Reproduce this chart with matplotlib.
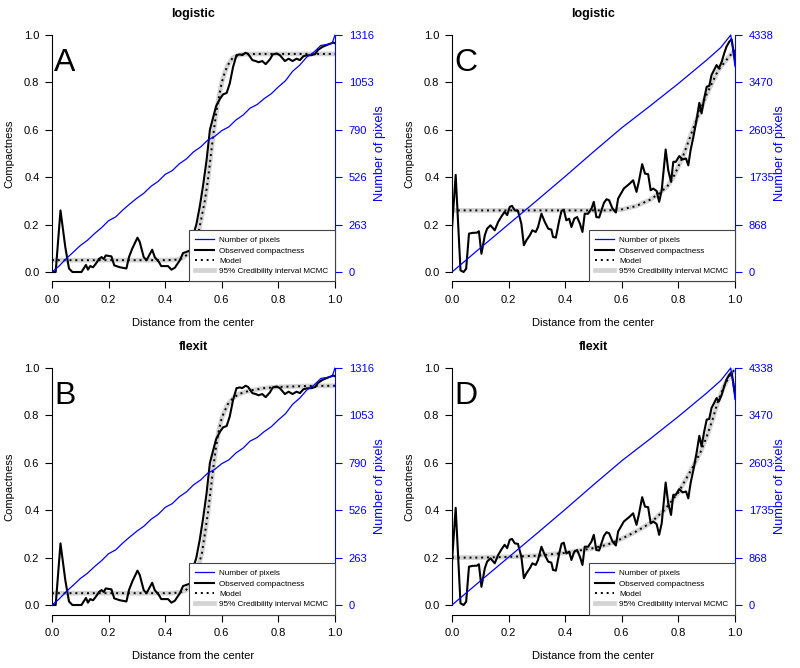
import numpy as np
import matplotlib
matplotlib.use('Agg')
import matplotlib.pyplot as plt
from matplotlib.lines import Line2D

plt.rcParams['font.family'] = ['Liberation Sans', 'DejaVu Sans']

# ── observed compactness, panels A/B (same data) ─────────────────────────────
ab_obs_x = [0.0, 0.013, 0.03, 0.047, 0.06, 0.072, 0.104, 0.12, 0.127, 0.135,
            0.145, 0.155, 0.166, 0.175, 0.183, 0.19, 0.21, 0.22, 0.24, 0.263,
            0.272, 0.284, 0.302, 0.31, 0.324, 0.334, 0.354, 0.363, 0.378, 0.386,
            0.4, 0.41, 0.422, 0.434, 0.452, 0.463, 0.475, 0.487, 0.5, 0.51,
            0.522, 0.534, 0.546, 0.558, 0.57, 0.58, 0.593, 0.605, 0.617, 0.628,
            0.64, 0.652, 0.664, 0.672, 0.684, 0.693, 0.708, 0.72, 0.73, 0.743,
            0.755, 0.77, 0.78, 0.794, 0.805, 0.823, 0.836, 0.85, 0.864, 0.876,
            0.888, 0.9, 0.917, 0.93, 0.94, 0.956, 0.976, 0.994, 1.0]
ab_obs_y = [0.0, 0.0, 0.26, 0.105, 0.015, 0.0, 0.0, 0.03, 0.01, 0.025,
            0.02, 0.035, 0.055, 0.063, 0.055, 0.07, 0.066, 0.028, 0.02, 0.015,
            0.063, 0.1, 0.145, 0.127, 0.063, 0.05, 0.094, 0.063, 0.042, 0.025,
            0.025, 0.025, 0.01, 0.018, 0.05, 0.08, 0.085, 0.09, 0.16, 0.2,
            0.275, 0.366, 0.47, 0.6, 0.655, 0.7, 0.73, 0.75, 0.755, 0.795,
            0.866, 0.915, 0.918, 0.915, 0.925, 0.92, 0.894, 0.89, 0.885, 0.89,
            0.877, 0.897, 0.918, 0.922, 0.915, 0.89, 0.9, 0.89, 0.9, 0.894,
            0.91, 0.914, 0.915, 0.92, 0.937, 0.95, 0.96, 0.968, 0.965]

# number of pixels, panels A/B
ab_pix_x = [0.0, 0.025, 0.05, 0.075, 0.1, 0.125, 0.15, 0.175, 0.2, 0.225,
            0.25, 0.275, 0.3, 0.325, 0.35, 0.375, 0.4, 0.425, 0.45, 0.475,
            0.5, 0.525, 0.55, 0.575, 0.6, 0.625, 0.65, 0.675, 0.7, 0.725,
            0.75, 0.775, 0.8, 0.825, 0.85, 0.875, 0.9, 0.925, 0.95, 0.975,
            0.99, 1.0]
ab_pix_n = [0, 33, 74, 110, 147, 176, 213, 246, 285, 306,
            344, 378, 410, 438, 476, 503, 542, 563, 601, 628,
            667, 694, 732, 753, 785, 806, 844, 871, 910, 930,
            963, 990, 1028, 1062, 1114, 1148, 1193, 1220, 1258, 1264,
            1270, 1316]
ab_pix_ticks = [0, 263, 526, 790, 1053, 1316]

# models A (logistic) and B (flexit)
a_mod_x = [0.0, 0.40, 0.44, 0.46, 0.48, 0.50, 0.52, 0.54, 0.55, 0.56, 0.57,
           0.58, 0.59, 0.60, 0.61, 0.62, 0.63, 0.64, 0.66, 0.68, 0.72, 1.0]
a_mod_y = [0.05, 0.05, 0.052, 0.058, 0.075, 0.11, 0.18, 0.30, 0.38, 0.48, 0.58,
           0.67, 0.74, 0.80, 0.84, 0.87, 0.89, 0.905, 0.915, 0.919, 0.92, 0.92]
b_mod_x = [0.0, 0.42, 0.45, 0.47, 0.49, 0.51, 0.53, 0.55, 0.56, 0.57, 0.58,
           0.59, 0.60, 0.62, 0.64, 0.66, 0.70, 0.75, 0.80, 0.90, 1.0]
b_mod_y = [0.05, 0.05, 0.053, 0.06, 0.08, 0.13, 0.22, 0.38, 0.48, 0.58, 0.67,
           0.74, 0.79, 0.845, 0.873, 0.89, 0.905, 0.915, 0.92, 0.924, 0.925]

# ── observed compactness, panels C/D (same data) ─────────────────────────────
cd_obs_x = [0.0, 0.013, 0.03, 0.041, 0.05, 0.06, 0.072, 0.088, 0.095, 0.104,
            0.116, 0.124, 0.136, 0.151, 0.163, 0.175, 0.186, 0.195, 0.204, 0.212,
            0.222, 0.233, 0.245, 0.254, 0.263, 0.275, 0.284, 0.296, 0.304, 0.316,
            0.328, 0.34, 0.351, 0.357, 0.367, 0.379, 0.387, 0.395, 0.404, 0.414,
            0.422, 0.432, 0.442, 0.452, 0.461, 0.469, 0.481, 0.493, 0.501, 0.51,
            0.52, 0.528, 0.537, 0.546, 0.555, 0.567, 0.579, 0.587, 0.597, 0.607,
            0.617, 0.628, 0.64, 0.652, 0.66, 0.672, 0.682, 0.693, 0.702, 0.711,
            0.723, 0.732, 0.741, 0.755, 0.764, 0.774, 0.782, 0.791, 0.803, 0.815,
            0.827, 0.835, 0.843, 0.853, 0.864, 0.874, 0.882, 0.89, 0.9, 0.909,
            0.917, 0.926, 0.935, 0.943, 0.953, 0.962, 0.97, 0.98, 0.988, 1.0]
cd_obs_y = [0.183, 0.41, 0.007, 0.0, 0.014, 0.162, 0.165, 0.166, 0.172, 0.077,
            0.155, 0.183, 0.197, 0.176, 0.211, 0.235, 0.254, 0.24, 0.275, 0.279,
            0.26, 0.258, 0.204, 0.113, 0.134, 0.155, 0.176, 0.169, 0.19, 0.246,
            0.211, 0.183, 0.179, 0.148, 0.145, 0.218, 0.258, 0.263, 0.218, 0.225,
            0.19, 0.225, 0.232, 0.204, 0.169, 0.246, 0.246, 0.268, 0.296, 0.232,
            0.23, 0.26, 0.292, 0.307, 0.303, 0.268, 0.251, 0.31, 0.331, 0.352,
            0.362, 0.373, 0.387, 0.338, 0.38, 0.455, 0.415, 0.413, 0.345, 0.352,
            0.342, 0.296, 0.345, 0.517, 0.43, 0.38, 0.465, 0.465, 0.489, 0.475,
            0.479, 0.45, 0.514, 0.57, 0.641, 0.714, 0.669, 0.725, 0.782, 0.785,
            0.831, 0.852, 0.873, 0.859, 0.887, 0.923, 0.951, 0.972, 0.982, 0.894]

# number of pixels, panels C/D
cd_pix_x = [0.0, 0.1, 0.2, 0.3, 0.4, 0.5, 0.6, 0.7, 0.8, 0.9, 0.95, 0.985, 1.0]
cd_pix_n = [0, 440, 875, 1310, 1750, 2200, 2640, 3040, 3450, 3880, 4110, 4338, 3760]
cd_pix_ticks = [0, 868, 1735, 2603, 3470, 4338]

# models C (logistic) and D (flexit)
c_mod_x = [0.0, 0.55, 0.60, 0.65, 0.70, 0.73, 0.76, 0.78, 0.80, 0.82, 0.84,
           0.86, 0.88, 0.90, 0.92, 0.94, 0.96, 0.98, 1.0]
c_mod_y = [0.26, 0.26, 0.264, 0.278, 0.305, 0.33, 0.36, 0.395, 0.445, 0.50, 0.565,
           0.63, 0.69, 0.75, 0.80, 0.85, 0.88, 0.91, 0.935]
d_mod_x = [0.0, 0.1, 0.2, 0.3, 0.4, 0.5, 0.55, 0.6, 0.65, 0.7, 0.75, 0.8,
           0.85, 0.88, 0.9, 0.92, 0.94, 0.96, 0.98, 1.0]
d_mod_y = [0.2, 0.2, 0.203, 0.208, 0.22, 0.24, 0.255, 0.28, 0.31, 0.345, 0.4, 0.475,
           0.58, 0.65, 0.71, 0.78, 0.86, 0.92, 0.965, 0.995]

LEGEND_LABELS = ['Number of pixels', 'Observed compactness', 'Model',
                 '95% Credibility interval MCMC']

BAND_COLOR = '#d3d3d3'
DOTS = (0, (1, 2))

W, H = 800, 668
fig = plt.figure(figsize=(W / 100, H / 100), dpi=100)


def draw_panel(x0_px, top_px, obs_x, obs_y, mod_x, mod_y,
               pix_x, pix_n, pix_ticks, title, letter):
    ax = fig.add_axes([x0_px / W, 1 - (top_px + 256) / H, 283 / W, 256 / H])

    ax.plot(mod_x, mod_y, color=BAND_COLOR, lw=3.4, solid_capstyle='butt', zorder=2)
    ax.plot(mod_x, mod_y, color='black', lw=1.4, ls=DOTS, zorder=3)
    ax.plot(obs_x, obs_y, color='black', lw=1.5, zorder=4)

    ax.set_xlim(0, 1)
    ax.set_ylim(-0.04, 1.04)
    ax.set_xticks(np.arange(0, 1.01, 0.2))
    ax.set_yticks(np.arange(0, 1.01, 0.2))
    ax.set_xticklabels([f'{v:.1f}' for v in np.arange(0, 1.01, 0.2)])
    ax.set_yticklabels([f'{v:.1f}' for v in np.arange(0, 1.01, 0.2)])
    ax.tick_params(direction='out', length=5, width=0.8, labelsize=8)
    ax.tick_params(axis='x', pad=5)
    ax.tick_params(axis='y', pad=4)
    for s in ('top', 'right'):
        ax.spines[s].set_visible(False)
    ax.spines['left'].set_bounds(0, 1)
    ax.spines['left'].set_linewidth(0.8)
    ax.spines['bottom'].set_linewidth(0.8)

    ax.text(0.5, 1.045, title, transform=ax.transAxes, ha='center', va='center',
            fontsize=9, fontweight='bold')
    ax.text(0.5, -0.162, 'Distance from the center', transform=ax.transAxes,
            ha='center', va='center', fontsize=8)
    ax.text(-0.152, 0.5, 'Compactness', transform=ax.transAxes, rotation=90,
            ha='center', va='center', fontsize=8)
    ax.text(0.008, 0.847, letter, ha='left', va='baseline', fontsize=23)

    ax2 = ax.twinx()
    ax2.plot(pix_x, pix_n, color='blue', lw=0.9, zorder=5)
    n_max = pix_ticks[-1]
    ax2.set_ylim(-0.04 * n_max, 1.04 * n_max)
    ax2.set_yticks(pix_ticks)
    ax2.set_yticklabels([str(t) for t in pix_ticks])
    ax2.tick_params(direction='out', length=5, width=0.8, labelsize=8,
                    colors='blue', pad=5)
    for s in ('top', 'left', 'bottom'):
        ax2.spines[s].set_visible(False)
    ax2.spines['right'].set_bounds(0, n_max)
    ax2.spines['right'].set_color('blue')
    ax2.spines['right'].set_linewidth(0.8)
    ax2.text(1.159, 0.5, 'Number of pixels', transform=ax2.transAxes, rotation=90,
             ha='center', va='center', fontsize=9.2, color='blue')

    handles = [
        Line2D([0], [0], color='blue', lw=0.9),
        Line2D([0], [0], color='black', lw=1.5),
        Line2D([0], [0], color='black', lw=1.4, ls=DOTS),
        Line2D([0], [0], color=BAND_COLOR, lw=3.4),
    ]
    leg = ax2.legend(handles, LEGEND_LABELS, loc='lower right',
                     bbox_to_anchor=(1, 0), borderaxespad=0, fontsize=5.9,
                     fancybox=False, framealpha=1, edgecolor='#444444',
                     handlelength=2.3, handletextpad=0.65, labelspacing=0.3,
                     borderpad=0.8)
    leg.get_frame().set_linewidth(0.8)
    leg.set_zorder(10)


draw_panel(52, 25.5, ab_obs_x, ab_obs_y, a_mod_x, a_mod_y,
           ab_pix_x, ab_pix_n, ab_pix_ticks, 'logistic', 'A')
draw_panel(452, 25.5, cd_obs_x, cd_obs_y, c_mod_x, c_mod_y,
           cd_pix_x, cd_pix_n, cd_pix_ticks, 'logistic', 'C')
draw_panel(52, 358.5, ab_obs_x, ab_obs_y, b_mod_x, b_mod_y,
           ab_pix_x, ab_pix_n, ab_pix_ticks, 'flexit', 'B')
draw_panel(452, 358.5, cd_obs_x, cd_obs_y, d_mod_x, d_mod_y,
           cd_pix_x, cd_pix_n, cd_pix_ticks, 'flexit', 'D')

fig.savefig('out.png', dpi=100)
